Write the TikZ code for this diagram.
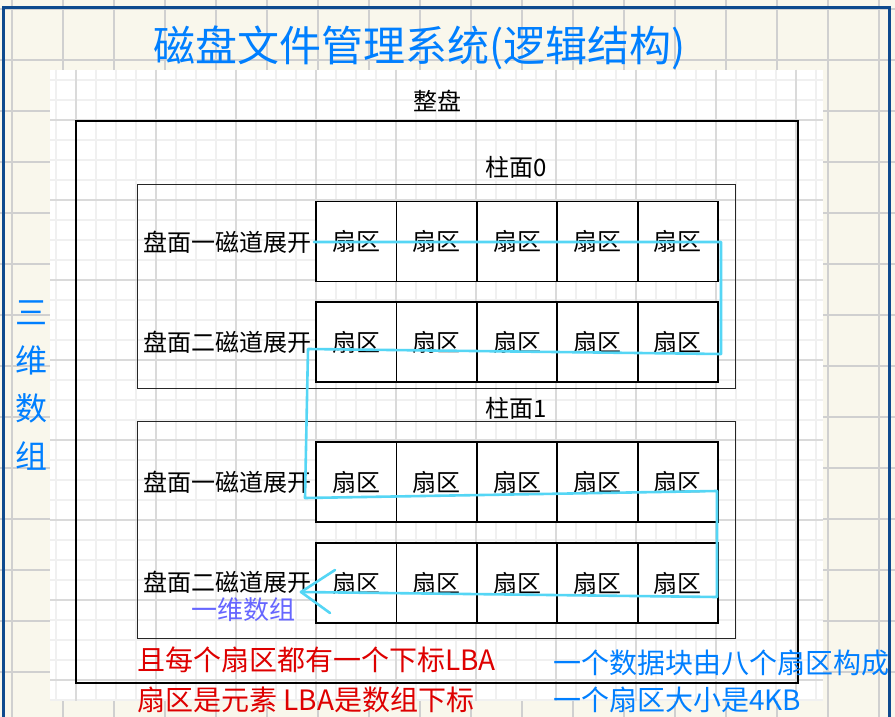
\documentclass[tikz,border=0pt]{standalone}
\usepackage{fontspec}
\setmainfont{Noto Sans CJK SC}
\definecolor{cream}{RGB}{249,247,236}
\definecolor{cgrid}{RGB}{208,208,208}
\definecolor{frameblue}{RGB}{14,74,142}
\definecolor{lgrid}{RGB}{240,240,240}
\definecolor{dgrid}{RGB}{218,218,218}
\definecolor{titleblue}{RGB}{0,127,255}
\definecolor{pathcyan}{RGB}{85,214,245}
\definecolor{violetblue}{RGB}{102,102,255}
\definecolor{redtext}{RGB}{222,0,0}
\tikzset{
  lbl/.style={inner sep=0pt, font=\fontsize{24}{26}\selectfont},
  cell/.style={draw=black, line width=1.8pt, fill=white, minimum width=80.4pt, minimum height=80pt, inner sep=0pt, font=\fontsize{24}{26}\selectfont},
  cyl/.style={draw=black!85, line width=1pt},
  walk/.style={draw=pathcyan, line width=2.6pt, line join=round, line cap=round},
}
\begin{document}
\begin{tikzpicture}[x=1pt,y=-1pt]
\useasboundingbox (0,0) rectangle (895,717);
% cream background with grid
\fill[cream] (0,0) rectangle (895,717);
\foreach \x in {12,63,...,890} \draw[cgrid, line width=2.4pt] (\x,0) -- (\x,717);
\foreach \y in {9,60,...,717} \draw[cgrid, line width=2.4pt] (0,\y) -- (895,\y);
% white canvas with fine grid
\fill[white] (50,70) rectangle (823,701);
\foreach \x in {56,76,...,816} \draw[lgrid, line width=1.6pt] (\x,70) -- (\x,701);
\foreach \y in {80,100,...,700} \draw[lgrid, line width=1.6pt] (50,\y) -- (823,\y);
\foreach \x in {76,156,...,800} \draw[dgrid, line width=1.2pt] (\x,70) -- (\x,701);
\foreach \y in {120,200,...,700} \draw[dgrid, line width=1.2pt] (50,\y) -- (823,\y);
% frame
\draw[frameblue, line width=3pt] (3.5,8) rectangle (889,740);
% title
\node[text=titleblue, inner sep=0pt, font=\fontsize{42}{46}\selectfont] (title) at (420,48) {磁盘文件管理系统(逻辑结构)};
% whole disk
\draw[black, line width=2pt] (76,121) rectangle (798,683);
\node[lbl] (disk) at (437,101) {整盘};
% cylinders
\draw[cyl] (137,184) rectangle (735,388);
\node[lbl] (cyl0) at (516,167) {柱面0};
\draw[cyl] (137,421) rectangle (735,638);
\node[lbl] (cyl1) at (516,408) {柱面1};
% sector rows
\foreach \r/\y in {1/241.5,2/342,3/482,4/583}{
  \foreach \c in {0,...,4}{
    \node[cell] (s\r\c) at ({356.2+80.4*\c},\y) {扇区};
  }
}
\node[lbl, anchor=east] (t1) at (312,242) {盘面一磁道展开};
\node[lbl, anchor=east] (t2) at (312,342) {盘面二磁道展开};
\node[lbl, anchor=east] (t3) at (312,482) {盘面一磁道展开};
\node[lbl, anchor=east] (t4) at (312,582) {盘面二磁道展开};
% traversal path
\coordinate (p0) at (314,242);
\coordinate (p1) at (721,242);
\coordinate (p2) at (721,354);
\coordinate (p3) at (308,349);
\coordinate (p4) at (305,498);
\coordinate (p5) at (717,491);
\coordinate (p6) at (717,597);
\coordinate (tip) at (301,592);
\coordinate (h1) at (335,570);
\coordinate (h2) at (330,613);
\draw[walk] (p0) -- (p1) -- (p2) -- (p3) -- (p4) -- (p5) -- (p6) -- (tip);
\draw[walk] (h1) -- (tip) -- (h2);
% annotations
\node[text=violetblue, inner sep=0pt, font=\fontsize{26}{28}\selectfont] (oned) at (243,610) {一维数组};
\node[text=titleblue, inner sep=0pt, font=\fontsize{32}{34}\selectfont, align=center] (threed) at (32,386) {三\\[14pt]维\\[14pt]数\\[14pt]组};
\node[text=redtext, inner sep=0pt, anchor=west, font=\fontsize{28}{30}\selectfont] (red1) at (137,660) {且每个扇区都有一个下标LBA};
\node[text=redtext, inner sep=0pt, anchor=west, font=\fontsize{28}{30}\selectfont] (red2) at (137,700) {扇区是元素 LBA是数组下标};
\node[text=titleblue, inner sep=0pt, anchor=west, font=\fontsize{28}{30}\selectfont] (blue1) at (553,663) {一个数据块由八个扇区构成};
\node[text=titleblue, inner sep=0pt, anchor=west, font=\fontsize{28}{30}\selectfont] (blue2) at (553,700) {一个扇区大小是4KB};
\end{tikzpicture}
\end{document}
